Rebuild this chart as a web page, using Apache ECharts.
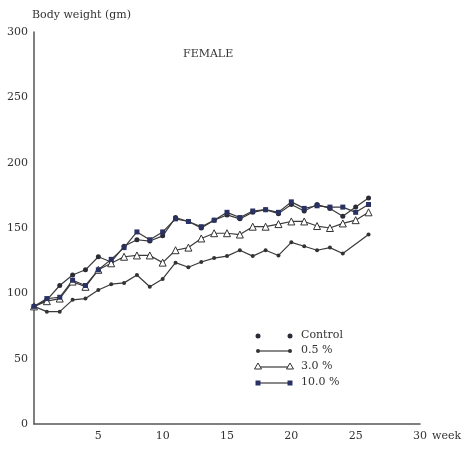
<!DOCTYPE html>
<html>
<head>
<meta charset="utf-8">
<script src="https://cdn.jsdelivr.net/npm/echarts@6/dist/echarts.min.js"></script>
<style>html,body{margin:0;padding:0;background:#fff}#c{width:475px;height:449px}</style>
</head>
<body>
<div id="c"></div>
<script>
var weeks = [0,1,2,3,4,5,6,7,8,9,10,11,12,13,14,15,16,17,18,19,20,21,22,23,24,25,26];
var control = [90,95,106,114,118,128,124,136,141,140,144,158,155,150,156,160,157,162,164,161,168,163,168,165,159,166,173];
var pct05   = [90,86,86,95,96,102.5,107,108,114,105,111,123.5,120,124,127,128.5,133,128.5,133,129,139,136,133,135,130.5,null,145];
var pct30   = [90,94,96,109,105,118,123,128,129,129,123.5,133,135,142,146,146,145,151,151,153,155,155,151.5,150,153.5,156,162];
var pct100  = [90,96,97,110,106,118,126,135,147,141,147,157,155,151,156,162,158,163,164,162,170,165,167,166,166,162,168];
var xTicks = [5,10,15,20,25,30];
var yTicks = [0,50,100,150,200,250,300];
var seriesNames = ['Control','0.5 %','3.0 %','10.0 %'];

function pairs(arr){
  var out=[];
  for(var i=0;i<weeks.length;i++){ if(arr[i]!==null) out.push([weeks[i],arr[i]]); }
  return out;
}
var FONT='DejaVu Serif';
var lineCol='#3a3a3a';
var chart = echarts.init(document.getElementById('c'));
var common = {type:'line', lineStyle:{color:lineCol,width:1.2}, animation:false, z:3};
var opt = {
  backgroundColor:'#fff',
  animation:false,
  grid:{left:34,right:55,top:32,bottom:25},
  xAxis:{type:'value',min:0,max:30,interval:5,
    axisLine:{lineStyle:{color:'#555',width:1.5}},
    axisTick:{show:false},splitLine:{show:false},
    axisLabel:{margin:7,color:'#333',fontFamily:FONT,fontSize:11,
      formatter:function(v){return xTicks.indexOf(v)>=0?String(v):'';}}},
  yAxis:{type:'value',min:0,max:300,interval:50,
    name:'Body weight (gm)',nameLocation:'end',nameGap:11,
    nameTextStyle:{align:'left',color:'#333',fontFamily:FONT,fontSize:11,padding:[0,0,0,-2]},
    axisLine:{show:true,lineStyle:{color:'#555',width:1.5}},
    axisTick:{show:false},splitLine:{show:false},
    axisLabel:{margin:6,color:'#333',fontFamily:FONT,fontSize:11,
      formatter:function(v){return yTicks.indexOf(v)>=0?String(v):'';}}},
  series:[
    Object.assign({},common,{name:seriesNames[0],data:pairs(control),symbol:'circle',symbolSize:5,
      itemStyle:{color:'#2b2b35'}}),
    Object.assign({},common,{name:seriesNames[1],data:pairs(pct05),symbol:'circle',symbolSize:4,
      itemStyle:{color:'#333'}}),
    Object.assign({},common,{name:seriesNames[2],data:pairs(pct30),symbol:'triangle',symbolSize:7,
      itemStyle:{color:'#fff',borderColor:'#333',borderWidth:1}}),
    Object.assign({},common,{name:seriesNames[3],data:pairs(pct100),symbol:'rect',symbolSize:5,
      itemStyle:{color:'#2a3263'}})
  ],
  graphic:[
    {type:'text',left:432,top:431,style:{text:'week',fill:'#333',font:'11px "DejaVu Serif"'}},
    {type:'text',left:183,top:49,style:{text:'FEMALE',fill:'#333',font:'11px "DejaVu Serif"'}},
    // legend
    {type:'circle',shape:{cx:258,cy:336,r:2.5},style:{fill:'#2b2b35'}},
    {type:'circle',shape:{cx:290,cy:336,r:2.5},style:{fill:'#2b2b35'}},
    {type:'text',left:301,top:330,style:{text:seriesNames[0],fill:'#333',font:'11px "DejaVu Serif"'}},
    {type:'line',shape:{x1:258,y1:351,x2:290,y2:351},style:{stroke:lineCol,lineWidth:1.2}},
    {type:'circle',shape:{cx:258,cy:351,r:2},style:{fill:'#333'}},
    {type:'circle',shape:{cx:290,cy:351,r:2},style:{fill:'#333'}},
    {type:'text',left:301,top:345,style:{text:seriesNames[1],fill:'#333',font:'11px "DejaVu Serif"'}},
    {type:'line',shape:{x1:258,y1:367,x2:290,y2:367},style:{stroke:lineCol,lineWidth:1.2}},
    {type:'polygon',shape:{points:[[258,363],[254.5,369],[261.5,369]]},style:{fill:'#fff',stroke:'#333',lineWidth:1}},
    {type:'polygon',shape:{points:[[290,363],[286.5,369],[293.5,369]]},style:{fill:'#fff',stroke:'#333',lineWidth:1}},
    {type:'text',left:301,top:361,style:{text:seriesNames[2],fill:'#333',font:'11px "DejaVu Serif"'}},
    {type:'line',shape:{x1:258,y1:383,x2:290,y2:383},style:{stroke:lineCol,lineWidth:1.2}},
    {type:'rect',shape:{x:255.5,y:380.5,width:5,height:5},style:{fill:'#2a3263'}},
    {type:'rect',shape:{x:287.5,y:380.5,width:5,height:5},style:{fill:'#2a3263'}},
    {type:'text',left:301,top:377,style:{text:seriesNames[3],fill:'#333',font:'11px "DejaVu Serif"'}}
  ]
};
chart.setOption(opt);
</script>
</body>
</html>
